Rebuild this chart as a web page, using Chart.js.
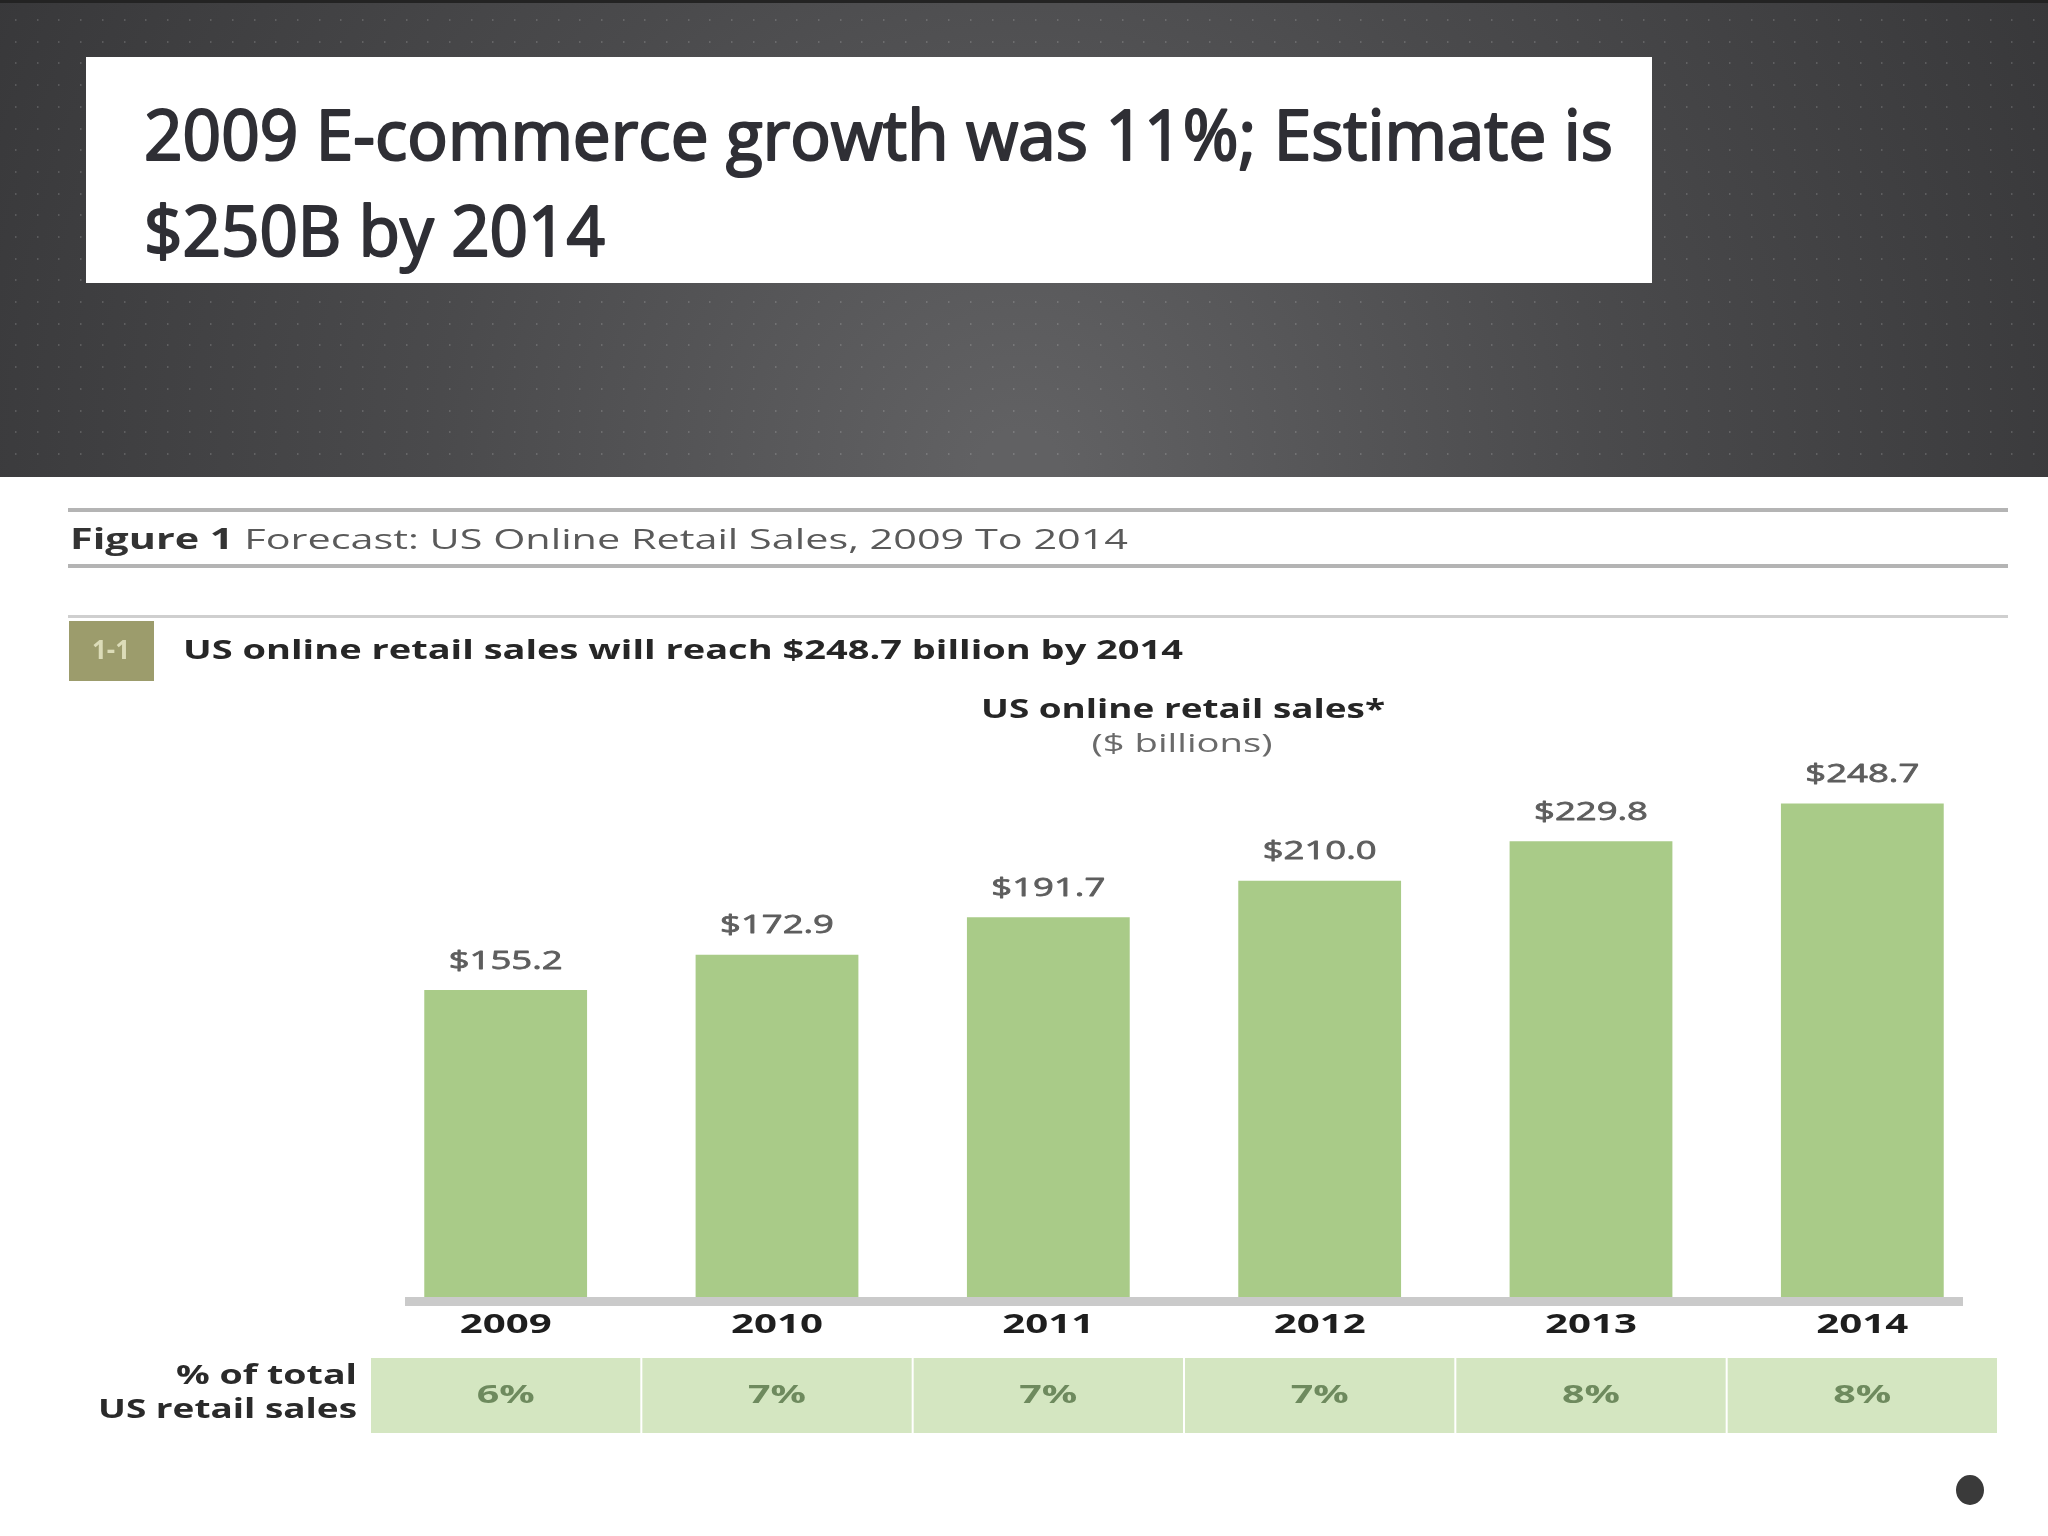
<!DOCTYPE html>
<html>
<head>
<meta charset="utf-8">
<title>US Online Retail Sales Forecast</title>
<script src="https://cdn.jsdelivr.net/npm/chart.js@4.4.1/dist/chart.umd.min.js"></script>
<style>
  html, body { margin: 0; padding: 0; background: #fff; }
  canvas { display: block; }
</style>
</head>
<body>
<canvas id="salesChart" width="2048" height="1536"></canvas>
<script>
// ── Data ─────────────────────────────────────────────────────
const years        = ['2009', '2010', '2011', '2012', '2013', '2014'];
const salesBillion = [155.2, 172.9, 191.7, 210.0, 229.8, 248.7];
const shareOfTotal = [6, 7, 7, 7, 8, 8];

const slideTitle   = ['2009 E-commerce growth was 11%; Estimate is', '$250B by 2014'];
const figureLabel  = 'Figure 1';
const figureText   = ' Forecast: US Online Retail Sales, 2009 To 2014';
const panelTag     = '1-1';
const panelTitle   = 'US online retail sales will reach $248.7 billion by 2014';
const chartTitle   = ['US online retail sales*', '($ billions)'];
const rowLabel     = ['% of total', 'US retail sales'];

const BAR_GREEN  = '#a9cb88';
const CELL_GREEN = '#d4e6c1';

// draws text squeezed/stretched horizontally to a target width
function fitText(ctx, text, x, y, width, align, stroke) {
    const w = ctx.measureText(text).width;
    const k = width / w;
    ctx.save();
    let x0 = x;
    if (align === 'center') x0 = x - width / 2;
    if (align === 'right')  x0 = x - width;
    ctx.translate(x0, y);
    ctx.scale(k, 1);
    ctx.textAlign = 'left';
    ctx.fillText(text, 0, 0);
    if (stroke) {
        ctx.strokeStyle = ctx.fillStyle;
        ctx.lineWidth = stroke;
        ctx.lineJoin = 'round';
        ctx.strokeText(text, 0, 0);
    }
    ctx.restore();
}

// ── Slide background, header & captions ──────────────────────
const backdrop = {
    id: 'backdrop',
    beforeDraw(chart) {
        const ctx = chart.ctx;
        ctx.save();
        ctx.fillStyle = '#ffffff';
        ctx.fillRect(0, 0, 2048, 1536);

        // dark header with soft light in the lower middle
        const g = ctx.createRadialGradient(1020, 470, 40, 1020, 470, 1250);
        g.addColorStop(0, '#616163');
        g.addColorStop(0.45, '#4a4a4c');
        g.addColorStop(1, '#343436');
        ctx.fillStyle = g;
        ctx.fillRect(0, 0, 2048, 477);
        ctx.fillStyle = '#232323';
        ctx.fillRect(0, 0, 2048, 3);

        ctx.fillStyle = 'rgba(255,255,255,0.16)';
        for (let y = 19; y < 470; y += 21.7) {
            for (let x = 15; x < 2048; x += 21.7) {
                ctx.fillRect(Math.round(x), Math.round(y), 1.5, 2);
            }
        }

        // title box
        ctx.fillStyle = '#ffffff';
        ctx.fillRect(86, 57, 1566, 226);
        ctx.fillStyle = '#2f2f35';
        ctx.font = '70px "Open Sans", "DejaVu Sans", sans-serif';
        ctx.textBaseline = 'alphabetic';
        fitText(ctx, slideTitle[0], 144, 160, 1469, 'left', 2.2);
        fitText(ctx, slideTitle[1], 144, 256, 461, 'left', 2.2);

        // figure caption rules
        ctx.fillStyle = '#b4b4b4';
        ctx.fillRect(68, 508, 1940, 4);
        ctx.fillRect(68, 564, 1940, 4);
        ctx.fillStyle = '#cfcfcf';
        ctx.fillRect(68, 615, 1940, 3);

        ctx.textBaseline = 'middle';
        ctx.font = 'bold 28px "Open Sans", sans-serif';
        const wBold = ctx.measureText(figureLabel).width;
        ctx.font = '28px "Open Sans", sans-serif';
        const wRest = ctx.measureText(figureText).width;
        const kf = 1058 / (wBold + wRest);
        ctx.fillStyle = '#333333';
        ctx.font = 'bold 28px "Open Sans", sans-serif';
        fitText(ctx, figureLabel, 70, 541, wBold * kf, 'left');
        ctx.fillStyle = '#5a5a5a';
        ctx.font = '28px "Open Sans", sans-serif';
        fitText(ctx, figureText, 70 + wBold * kf, 541, wRest * kf, 'left');

        // panel tag + title
        ctx.fillStyle = '#9c9c6c';
        ctx.fillRect(69, 621, 85, 60);
        ctx.fillStyle = '#dcdcb8';
        ctx.font = 'bold 26px "Open Sans", sans-serif';
        fitText(ctx, panelTag, 111, 652, 38, 'center');

        ctx.fillStyle = '#262626';
        ctx.font = 'bold 27px "Open Sans", sans-serif';
        fitText(ctx, panelTitle, 183, 651, 1000, 'left');

        ctx.font = 'bold 27px "Open Sans", sans-serif';
        fitText(ctx, chartTitle[0], 1183, 710, 404, 'center');
        ctx.fillStyle = '#6a6a6a';
        ctx.font = '26px "Open Sans", sans-serif';
        fitText(ctx, chartTitle[1], 1182, 745, 181, 'center');

        // small bullet at the bottom right
        ctx.fillStyle = '#3a3a3a';
        ctx.beginPath();
        ctx.ellipse(1970, 1490, 14, 15, 0, 0, Math.PI * 2);
        ctx.fill();
        ctx.restore();
    },

    afterDatasetsDraw(chart) {
        const ctx  = chart.ctx;
        const area = chart.chartArea;
        const xs   = chart.scales.x;
        const ys   = chart.scales.y;
        const cat  = (area.right - area.left) / years.length;
        ctx.save();

        // baseline band
        ctx.fillStyle = '#cacaca';
        ctx.fillRect(405, area.bottom - 3, 1558, 9);

        ctx.textBaseline = 'middle';
        years.forEach((yr, i) => {
            const cx = xs.getPixelForValue(i);

            // value label above bar
            const top = ys.getPixelForValue(salesBillion[i]);
            ctx.fillStyle = '#5e5e5e';
            ctx.font = '26px "Open Sans", sans-serif';
            fitText(ctx, '$' + salesBillion[i].toFixed(1), cx, top - 29, 114, 'center', 0.8);

            // year label
            ctx.fillStyle = '#1e1e1e';
            ctx.font = 'bold 26px "Open Sans", sans-serif';
            fitText(ctx, yr, cx, area.bottom + 26, 92, 'center');

            // share cell
            ctx.fillStyle = CELL_GREEN;
            ctx.fillRect(cx - cat / 2 + 1, 1358, cat - 2, 75);
            ctx.fillStyle = '#6e8a5e';
            ctx.font = 'bold 25px "Open Sans", sans-serif';
            fitText(ctx, shareOfTotal[i] + '%', cx, 1396, 58, 'center');
        });

        ctx.fillStyle = '#2a2a2a';
        ctx.font = 'bold 26px "Open Sans", sans-serif';
        fitText(ctx, rowLabel[0], 357, 1377, 181, 'right');
        fitText(ctx, rowLabel[1], 357, 1411, 259, 'right');
        ctx.restore();
    }
};

// ── Chart ────────────────────────────────────────────────────
new Chart(document.getElementById('salesChart').getContext('2d'), {
    type: 'bar',
    data: {
        labels: years,
        datasets: [{
            label: 'US online retail sales ($ billions)',
            data: salesBillion,
            backgroundColor: BAR_GREEN,
            borderWidth: 0,
            barPercentage: 0.6,
            categoryPercentage: 1
        }]
    },
    options: {
        responsive: false,
        devicePixelRatio: 1,
        animation: false,
        layout: { padding: { left: 370, right: 50, top: 701, bottom: 236 } },
        plugins: {
            legend:  { display: false },
            tooltip: { enabled: false }
        },
        scales: {
            x: { display: false },
            y: { display: false, min: 0, max: 300 }
        }
    },
    plugins: [backdrop]
});
</script>
</body>
</html>
